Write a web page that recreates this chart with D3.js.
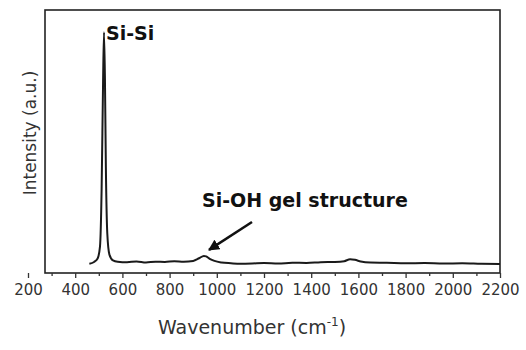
<!DOCTYPE html>
<html>
<head>
  <meta charset="utf-8">
  <title>raman</title>
  <style>
    body {margin:0; background:#fff;}
    svg.chart text {font-family: "DejaVu Sans", sans-serif; fill:#222;}
    svg.chart .frame {fill:none; stroke:#222; stroke-width:1.6;}
    svg.chart .spectrum {fill:none; stroke:#1a1a1a; stroke-width:2; stroke-linejoin:round;}
    svg.chart .axis line {stroke:#333; stroke-width:1.3;}
    svg.chart .axis text {font-size:15px; fill:#333;}
    svg.chart .label {font-weight:bold; font-size:19px; fill:#111;}
  </style>
</head>
<body>
<script src="https://cdn.jsdelivr.net/npm/d3@7/dist/d3.min.js"></script>
<script>
  // spectrum (intensity in a.u., 0-100)
  var wavenumbers = [460, 480, 495, 505, 512, 518, 522, 526, 530, 536, 545, 560, 580, 620, 660, 700, 740, 780, 820, 860, 900, 925, 945, 955, 970, 990, 1020, 1060, 1100, 1150, 1200, 1260, 1320, 1380, 1440, 1500, 1540, 1565, 1585, 1610, 1650, 1720, 1800, 1880, 1960, 2040, 2120, 2200];
  var intensity   = [3.5, 4.2, 5.5, 10, 32, 72, 91.5, 74, 40, 15, 7, 4.8, 4.3, 4.1, 4.4, 4.0, 4.3, 4.2, 4.5, 4.3, 4.6, 5.6, 6.5, 6.3, 5.4, 4.6, 4.0, 3.7, 3.5, 3.6, 3.8, 3.6, 3.9, 3.8, 4.1, 4.2, 4.5, 5.2, 5.0, 4.4, 4.0, 3.9, 3.7, 3.8, 3.6, 3.7, 3.5, 3.4];

  var majorTicks = [200, 400, 600, 800, 1000, 1200, 1400, 1600, 1800, 2000, 2200];
  var minorTicks = [300, 500, 700, 900, 1100, 1300, 1500, 1700, 1900, 2100];

  var width = 526,
      height = 350,
      frame_left = 45,
      frame_right = 500,
      frame_top = 10,
      frame_bottom = 273;

  var x = d3.scaleLinear().domain([200, 2200]).range([28, 500]);
  var y = d3.scaleLinear().domain([0, 100]).range([frame_bottom, frame_top]);

  var svg = d3.select('body')
    .append('svg')
    .attr('class', 'chart')
    .attr('width', width)
    .attr('height', height);

  svg.append('rect')
    .attr('class', 'frame')
    .attr('x', frame_left)
    .attr('y', frame_top)
    .attr('width', frame_right - frame_left)
    .attr('height', frame_bottom - frame_top);

  // minor ticks first, then the labelled ones
  svg.append('g')
    .attr('class', 'axis')
    .attr('transform', 'translate(0,' + frame_bottom + ')')
    .call(d3.axisBottom(x).tickValues(minorTicks).tickSize(3).tickFormat(''))
    .select('.domain').remove();

  svg.append('g')
    .attr('class', 'axis')
    .attr('transform', 'translate(0,' + frame_bottom + ')')
    .call(d3.axisBottom(x).tickValues(majorTicks).tickSize(5).tickPadding(6).tickFormat(d3.format('d')))
    .call(function(g){ g.select('.domain').remove(); });

  var points = wavenumbers.map(function(w, i){ return [w, intensity[i]]; });

  var line = d3.line()
    .x(function(d){ return x(d[0]); })
    .y(function(d){ return y(d[1]); })
    .curve(d3.curveMonotoneX);

  svg.append('path')
    .datum(points)
    .attr('class', 'spectrum')
    .attr('d', line);

  // axis titles
  var xt = svg.append('text')
    .attr('x', 252)
    .attr('y', 334)
    .attr('text-anchor', 'middle')
    .style('font-size', '19px')
    .style('fill', '#333');
  xt.append('tspan').text('Wavenumber (cm');
  xt.append('tspan').attr('dy', -8).style('font-size', '12px').text('-1');
  xt.append('tspan').attr('dy', 8).text(')');

  svg.append('text')
    .attr('transform', 'translate(36,133) rotate(-90)')
    .attr('text-anchor', 'middle')
    .style('font-size', '17px')
    .style('fill', '#333')
    .text('Intensity (a.u.)');

  // annotations
  svg.append('text')
    .attr('class', 'label')
    .attr('x', x(522) + 2)
    .attr('y', 40)
    .text('Si-Si');

  svg.append('text')
    .attr('class', 'label')
    .attr('x', 202)
    .attr('y', 207)
    .text('Si-OH gel structure');

  svg.append('defs')
    .append('marker')
    .attr('id', 'head')
    .attr('viewBox', '0 0 10 10')
    .attr('refX', 9)
    .attr('refY', 5)
    .attr('markerWidth', 4.5)
    .attr('markerHeight', 4.5)
    .attr('orient', 'auto')
      .append('path')
      .attr('d', 'M0,0L10,5L0,10z')
      .attr('fill', '#111');

  svg.append('line')
    .attr('x1', 252)
    .attr('y1', 222)
    .attr('x2', x(950) + 4)
    .attr('y2', y(6.5) - 6)
    .attr('stroke', '#111')
    .attr('stroke-width', 2.5)
    .attr('marker-end', 'url(#head)');
</script>
</body>
</html>
